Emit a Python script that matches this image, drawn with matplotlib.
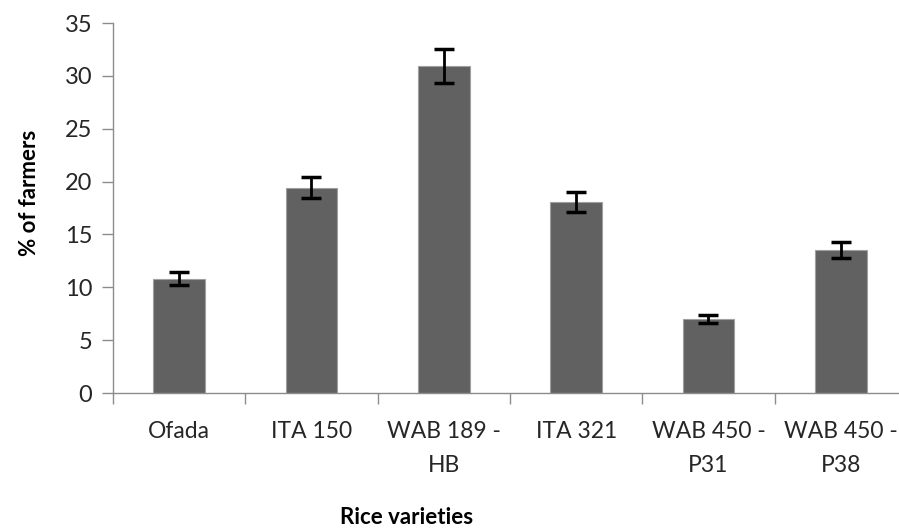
import matplotlib
matplotlib.use("Agg")
import matplotlib.pyplot as plt

# values
varieties = ["Ofada", "ITA 150", "WAB 189 -\nHB", "ITA 321", "WAB 450 -\nP31", "WAB 450 -\nP38"]
pct_farmers = [10.8, 19.4, 30.9, 18.1, 7.0, 13.5]
pct_err = [0.6, 1.0, 1.6, 0.95, 0.4, 0.75]
yticks = [0, 5, 10, 15, 20, 25, 30, 35]

plt.rcParams["font.family"] = ["Lato", "DejaVu Sans"]

fig = plt.figure(figsize=(8.99, 5.31), dpi=100)
# plot area runs a bit past the right edge, as in the reference
ax = fig.add_axes([113 / 899, 138 / 531, 794 / 899, 370 / 531])

x = range(len(varieties))
ax.bar(x, pct_farmers, width=0.39, color="#616161", edgecolor="#a0a0a0", linewidth=0.8, zorder=2)
ax.errorbar(x, pct_farmers, yerr=pct_err, fmt="none", ecolor="black",
            elinewidth=2, capsize=7, capthick=2.5, zorder=3)

ax.set_xlim(-0.5, len(varieties) - 0.5)
ax.set_ylim(0, 35)
ax.set_yticks(yticks)
ax.set_yticklabels([str(t) for t in yticks])

# category ticks sit between the bars
ax.set_xticks([i - 0.5 for i in range(len(varieties) + 1)], minor=False)
ax.set_xticklabels([])
ax.set_xticks(list(x), minor=True)
ax.set_xticklabels(varieties, minor=True, fontsize=16.5, color="#262626", linespacing=1.75)
ax.tick_params(axis="x", which="minor", length=0, pad=20)
ax.tick_params(axis="x", which="major", length=8, width=1, color="#8c8c8c", direction="out")
ax.tick_params(axis="y", length=8, width=1, color="#8c8c8c", direction="out",
               labelsize=17, labelcolor="#262626", pad=7)

for side in ("top", "right"):
    ax.spines[side].set_visible(False)
for side in ("left", "bottom"):
    ax.spines[side].set_color("#8c8c8c")
    ax.spines[side].set_linewidth(1)

fig.text(30 / 899, 1 - 193 / 531, "% of farmers", rotation=90, ha="center", va="center",
         fontsize=16, fontweight="bold", color="black")
fig.text(407 / 899, 1 - 518 / 531, "Rice varieties", ha="center", va="center",
         fontsize=16, fontweight="bold", color="black")

fig.savefig("out.png", dpi=100)
